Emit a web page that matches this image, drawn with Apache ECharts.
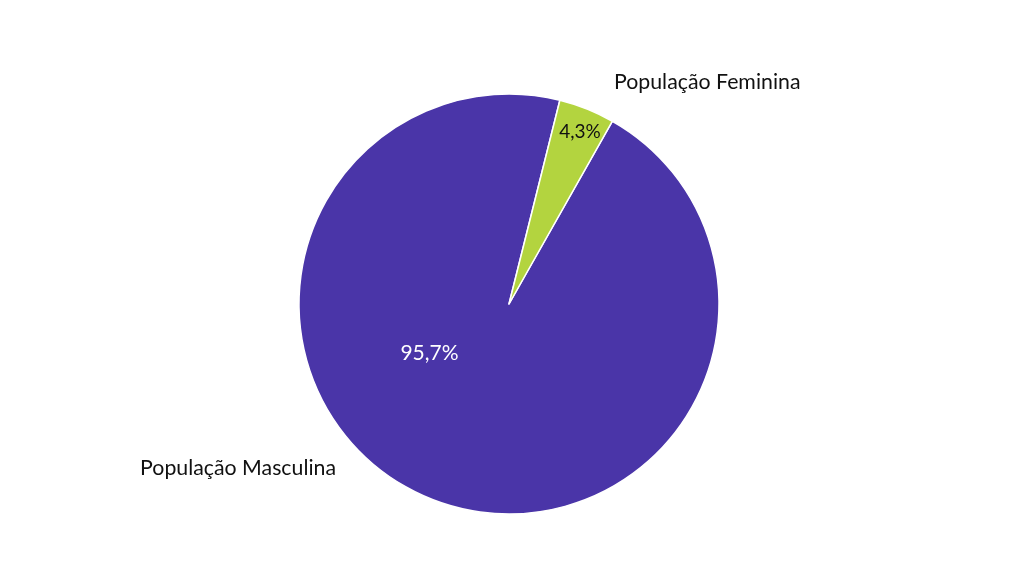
<!DOCTYPE html>
<html><head><meta charset="utf-8">
<script src="https://cdn.jsdelivr.net/npm/echarts@6/dist/echarts.min.js"></script>
<style>html,body{margin:0;padding:0;background:#fff}#c{width:1024px;height:576px}</style>
</head><body><div id="c"></div>
<script>
const categories = ['População Masculina', 'População Feminina'];
const values = [95.7, 4.3];
const colors = ['#4a35a8', '#b3d43f'];
const pctColors = ['#ffffff', '#111111'];
const pctSizes = [21, 19];

const chart = echarts.init(document.getElementById('c'), null, {renderer: 'canvas'});
const cx = 509, cy = 304, R = 210;
const data = categories.map((n, i) => ({
  name: n, value: values[i], itemStyle: {color: colors[i]},
  label: {color: pctColors[i], fontSize: pctSizes[i]}
}));

// label positions (name labels and percentage labels)
const namePos = [{x: 336, y: 468, align: 'right'}, {x: 614, y: 82, align: 'left'}];
const pctPos = [{x: 429.5, y: 353}, {x: 580, y: 132}];

chart.setOption({
  animation: false,
  series: [
    {
      type: 'pie', center: [cx, cy], radius: R, startAngle: 60.5, clockwise: true,
      itemStyle: {borderColor: '#ffffff', borderWidth: 1.5},
      data: data,
      label: {
        show: true, position: 'inside', fontFamily: 'Lato', fontSize: 20,
        formatter: p => p.value.toFixed(1).replace('.', ',') + '%'
      },
      labelLine: {show: false},
      labelLayout: p => ({x: pctPos[p.dataIndex].x, y: pctPos[p.dataIndex].y, align: 'center', verticalAlign: 'middle'})
    },
    {
      type: 'pie', center: [cx, cy], radius: R, startAngle: 60.5, clockwise: true, silent: true,
      itemStyle: {color: 'rgba(0,0,0,0)', borderWidth: 0},
      data: categories.map((n, i) => ({name: n, value: values[i]})),
      label: {show: true, position: 'outside', fontFamily: 'Lato', fontSize: 21.3, color: '#111111', formatter: '{b}'},
      labelLine: {show: false},
      labelLayout: p => ({x: namePos[p.dataIndex].x, y: namePos[p.dataIndex].y, align: namePos[p.dataIndex].align, verticalAlign: 'middle'})
    }
  ]
});
</script></body></html>
